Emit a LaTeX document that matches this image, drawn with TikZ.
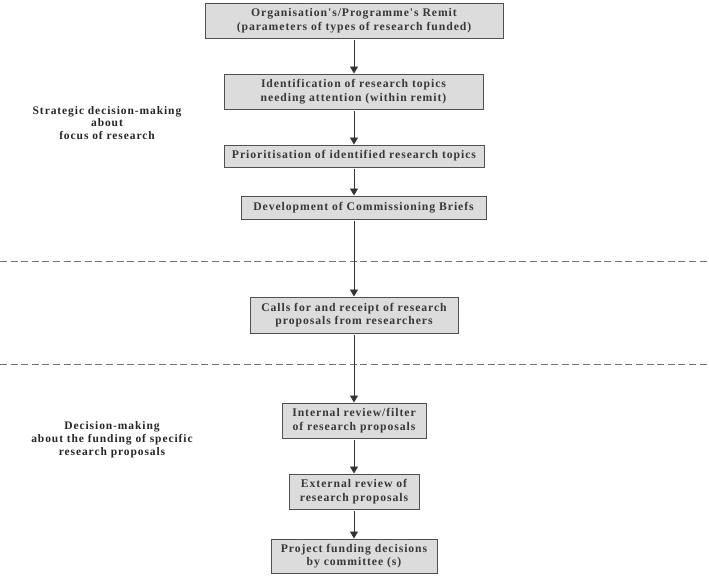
\documentclass[tikz,border=0pt]{standalone}
\usepackage{fontspec}
\setmainfont{Liberation Serif}
\newfontfamily\boxfont[LetterSpace=8]{Liberation Serif}
\usetikzlibrary{arrows.meta}
\definecolor{boxfill}{HTML}{DCDCDC}
\definecolor{boxline}{HTML}{505050}
\definecolor{txt}{HTML}{383838}
\definecolor{dashc}{HTML}{747474}
\begin{document}
\begin{tikzpicture}[x=1pt,y=-1pt,
  stagebox/.style={draw=boxline, fill=boxfill, line width=1pt, inner sep=0pt,
    align=center, text=txt, font=\boxfont\bfseries\fontsize{11.7}{13.6}\selectfont},
  sidelabel/.style={align=center, text=black!85, font=\boxfont\bfseries\fontsize{11.5}{12.8}\selectfont},
  flow/.style={draw=black!80, line width=0.9pt, -{Triangle[width=8pt,length=7pt]}, shorten <=1pt},
  divider/.style={draw=dashc, line width=1.2pt, dash pattern=on 7pt off 3.6pt}
]
\useasboundingbox (0,0) rectangle (709,576);
\coordinate (ax) at (354,0);

\node[stagebox, minimum width=298pt, minimum height=35pt] (b1) at (354,20.5)
  {Organisation's/Programme's Remit\\(parameters of types of research funded)};
\node[stagebox, minimum width=259pt, minimum height=35pt] (b2) at (353.5,91.5)
  {Identification of research topics\\needing attention (within remit)};
\node[stagebox, minimum width=260pt, minimum height=22pt] (b3) at (354,156)
  {Prioritisation of identified research topics};
\node[stagebox, minimum width=245pt, minimum height=23pt] (b4) at (363.5,207.5)
  {Development of Commissioning Briefs};
\node[stagebox, minimum width=208pt, minimum height=36pt] (b5) at (354,315)
  {Calls for and receipt of research\\proposals from researchers};
\node[stagebox, minimum width=144pt, minimum height=35pt] (b6) at (354,420.5)
  {Internal review/filter\\of research proposals};
\node[stagebox, minimum width=130pt, minimum height=35pt] (b7) at (354,491.5)
  {External review of\\research proposals};
\node[stagebox, minimum width=166pt, minimum height=34pt] (b8) at (354,556)
  {Project funding decisions\\by committee (s)};

\node[sidelabel] (l1) at (107,123)
  {Strategic decision-making\\about\\focus of research};
\node[sidelabel] (l2) at (112,440)
  {Decision-making\\about the funding of specific\\research proposals};

\coordinate (d1a) at (0,261.5);
\coordinate (d1b) at (709,261.5);
\coordinate (d2a) at (0,364.5);
\coordinate (d2b) at (709,364.5);
\draw[divider] (d1a) -- (d1b);
\draw[divider] (d2a) -- (d2b);

\draw[flow] (b1.south -| ax) -- (b2.north -| ax);
\draw[flow] (b2.south -| ax) -- (b3.north -| ax);
\draw[flow] (b3.south -| ax) -- (b4.north -| ax);
\draw[flow] (b4.south -| ax) -- (b5.north -| ax);
\draw[flow] (b5.south -| ax) -- (b6.north -| ax);
\draw[flow] (b6.south -| ax) -- (b7.north -| ax);
\draw[flow] (b7.south -| ax) -- (b8.north -| ax);
\end{tikzpicture}
\end{document}
